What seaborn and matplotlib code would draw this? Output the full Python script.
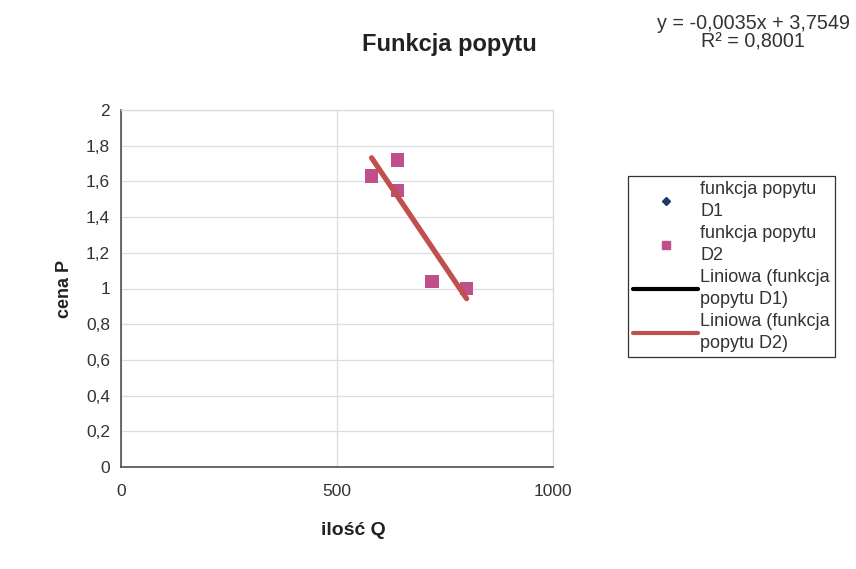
import matplotlib
matplotlib.use("Agg")
import matplotlib.pyplot as plt
from matplotlib.lines import Line2D
from matplotlib.ticker import FuncFormatter, MultipleLocator
import numpy as np
import pandas as pd
import seaborn as sns

# data
q_d2 = [580, 640, 640, 720, 800]
p_d2 = [1.63, 1.72, 1.55, 1.04, 1.00]
q_d1 = []
p_d1 = []
title = "Funkcja popytu"
xlabel = "ilość Q"
ylabel = "cena P"
eq_text = "y = -0,0035x + 3,7549\nR² = 0,8001"
legend_labels = ["funkcja popytu\nD1", "funkcja popytu\nD2",
                 "Liniowa (funkcja\npopytu D1)", "Liniowa (funkcja\npopytu D2)"]

sns.set_theme(style="white")
plt.rcParams['font.family'] = ['Liberation Sans', 'DejaVu Sans']

fig = plt.figure(figsize=(8.56, 5.69), dpi=100)
ax = fig.add_axes([121/856, 1-467/569, (553-121)/856, (467-110)/569])

df2 = pd.DataFrame({"q": q_d2, "p": p_d2})
pink = "#C0508C"
red = "#C0504D"
sns.regplot(data=df2, x="q", y="p", ax=ax, ci=None, truncate=True, marker="s",
            scatter_kws=dict(s=95, color=pink, edgecolor="none", alpha=1, zorder=3),
            line_kws=dict(color=red, lw=3.8, zorder=4))

ax.set_xlim(0, 1000)
ax.set_ylim(0, 2)
ax.xaxis.set_major_locator(MultipleLocator(500))
ax.yaxis.set_major_locator(MultipleLocator(0.2))
fmt = FuncFormatter(lambda v, pos: ("%g" % round(v, 2)).replace(".", ","))
ax.xaxis.set_major_formatter(fmt)
ax.yaxis.set_major_formatter(fmt)
ax.grid(True, color="#DCDCE4", lw=0.9)
ax.set_axisbelow(True)
for s in ["top", "right"]:
    ax.spines[s].set_color("#D8D8D8")
    ax.spines[s].set_linewidth(0.8)
for s in ["left", "bottom"]:
    ax.spines[s].set_color("#505050")
    ax.spines[s].set_linewidth(1.2)
ax.tick_params(axis="both", direction="inout", length=6, width=1, color="#505050",
               labelsize=12.5, labelcolor="#333333", pad=5)
ax.tick_params(axis="x", pad=9)
ax.set_xlabel(xlabel, fontsize=14, fontweight="bold", color="#222222")
ax.set_ylabel(ylabel, fontsize=13, fontweight="bold", color="#222222")
ax.xaxis.set_label_coords(0.537, -0.155)
ax.yaxis.set_label_coords(-0.11, 0.5)

fig.text(449/856, 1-44/569, title, ha="center", va="center", fontsize=17,
         fontweight="bold", color="#222222")
fig.text(753/856, 1-33/569, eq_text, ha="center", va="center", fontsize=14.2,
         color="#333333", linespacing=1.0)

handles = [
    Line2D([], [], marker="D", color="#1F3864", ls="none", markersize=4.5),
    Line2D([], [], marker="s", color=pink, ls="none", markersize=5.5),
    Line2D([], [], color="black", lw=3),
    Line2D([], [], color=red, lw=3),
]
leg = fig.legend(handles, legend_labels, loc="upper left",
                 bbox_to_anchor=(628/856, 1-176/569), fontsize=13,
                 frameon=True, fancybox=False, edgecolor="black",
                 borderpad=0.3, labelspacing=0.3, handlelength=3.6,
                 handletextpad=0.1, borderaxespad=0)
leg.get_frame().set_linewidth(0.9)
for t in leg.get_texts():
    t.set_color("#333333")
    t.set_linespacing(1.35)

fig.savefig("out.png", dpi=100, facecolor="white")
